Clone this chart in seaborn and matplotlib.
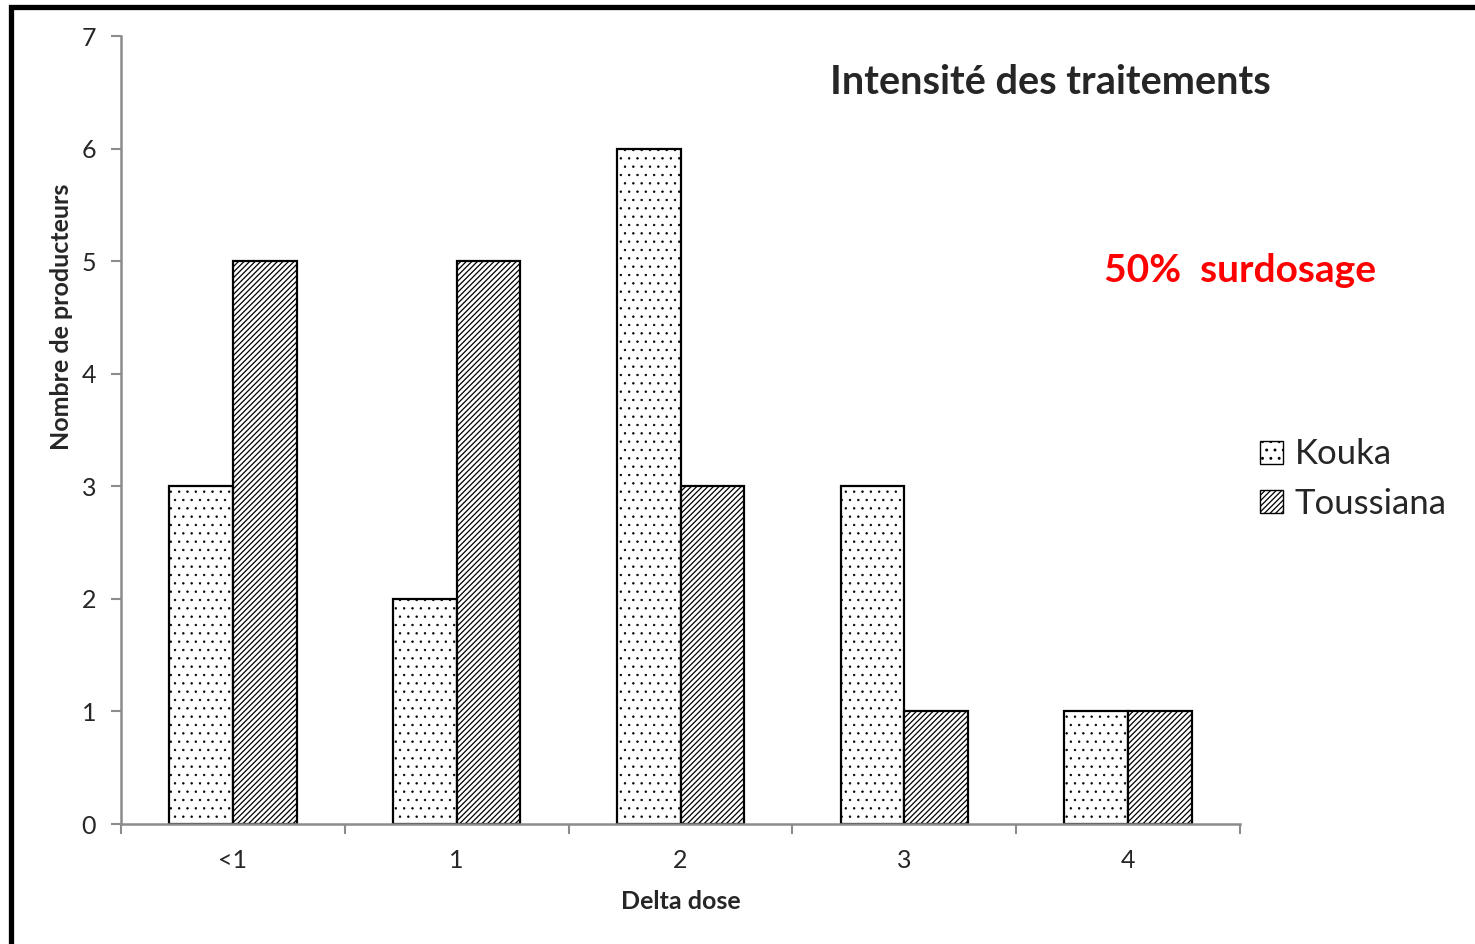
import matplotlib
matplotlib.use("Agg")
import matplotlib.pyplot as plt
import matplotlib.patches as mpatches
import seaborn as sns
import pandas as pd
import numpy as np

categories = ["<1", "1", "2", "3", "4"]
kouka = [3, 2, 6, 3, 1]
toussiana = [5, 5, 3, 1, 1]
series_names = ["Kouka", "Toussiana"]
hatches = {"Kouka": "..", "Toussiana": "//////"}
hatch_widths = {"Kouka": 0.5, "Toussiana": 0.9}

df = pd.DataFrame({
    "Delta dose": categories * 2,
    "value": kouka + toussiana,
    "site": [series_names[0]] * len(categories) + [series_names[1]] * len(categories),
})

sns.set_style("white")
plt.rcParams["font.family"] = ["Lato", "DejaVu Sans"]
plt.rcParams["hatch.color"] = "black"
plt.rcParams["hatch.linewidth"] = 0.9

fig = plt.figure(figsize=(14.75, 9.44), dpi=100)
ax = fig.add_axes([121 / 1475, 1 - 824 / 944, (1240 - 121) / 1475, (824 - 36) / 944])

sns.barplot(data=df, x="Delta dose", y="value", hue="site", order=categories,
            hue_order=series_names, palette=["white", "white"], width=0.57,
            edgecolor="black", linewidth=1.6, ax=ax, legend=False, gap=0)


def style_hatch(patch, name):
    patch.set_hatch(hatches[name])
    if hasattr(patch, "set_hatch_linewidth"):
        patch.set_hatch_linewidth(hatch_widths[name])
    if name == "Kouka" and hasattr(patch, "set_hatchcolor"):
        patch.set_hatchcolor("#444444")


n = len(categories)
for i, p in enumerate(ax.patches[:2 * n]):
    style_hatch(p, series_names[i // n])

ax.set_xlim(-0.5, n - 0.5)
ax.set_ylim(0, 7)
ax.set_yticks(range(0, 8))
ax.set_xticks(np.arange(-0.5, n, 1.0))
ax.set_xticklabels([])
ax.set_xticks(range(n), minor=True)
ax.set_xticklabels(categories, minor=True)
ax.tick_params(axis="x", which="minor", bottom=False, length=0, pad=18, labelsize=18)
ax.tick_params(axis="x", which="major", bottom=True, length=7, width=1.5,
               color="#8c8c8c", direction="out")
ax.tick_params(axis="y", left=True, length=7, width=1.5, color="#8c8c8c",
               direction="out", pad=11, labelsize=18)

for s in ["top", "right"]:
    ax.spines[s].set_visible(False)
for s in ["left", "bottom"]:
    ax.spines[s].set_color("#8c8c8c")
    ax.spines[s].set_linewidth(1.8)

ax.set_xlabel("Delta dose", fontsize=18, fontweight="bold", labelpad=13)
ax.set_ylabel("Nombre de producteurs", fontsize=18, fontweight="bold")
ax.yaxis.set_label_coords((73 - 121) / 1119, (824 - 317) / 788)

fig.text(1050 / 1475, 1 - 82 / 944, "Intensité des traitements", fontsize=28.5,
         fontweight="bold", ha="center", va="center")
fig.text(1240 / 1475, 1 - 270 / 944, "50%  surdosage", fontsize=28,
         fontweight="bold", color="#ff0000", ha="center", va="center")

legend_handles = []
for s in series_names:
    h = mpatches.Patch(facecolor="white", edgecolor="black", label=s)
    style_hatch(h, s)
    legend_handles.append(h)
fig.legend(handles=legend_handles, loc="center left",
           bbox_to_anchor=(1260 / 1475, 1 - 479 / 944),
           frameon=False, fontsize=25, handlelength=0.65, handleheight=0.65,
           handletextpad=0.35, labelspacing=0.5, borderaxespad=0, borderpad=0)

frame = mpatches.Rectangle((10.5 / 1475, -0.2), 1.2, 1 - 6.5 / 944 + 0.2,
                           transform=fig.transFigure, fill=False, edgecolor="black",
                           linewidth=3.8, clip_on=False)
fig.patches.append(frame)

fig.savefig("out.png", dpi=100)
